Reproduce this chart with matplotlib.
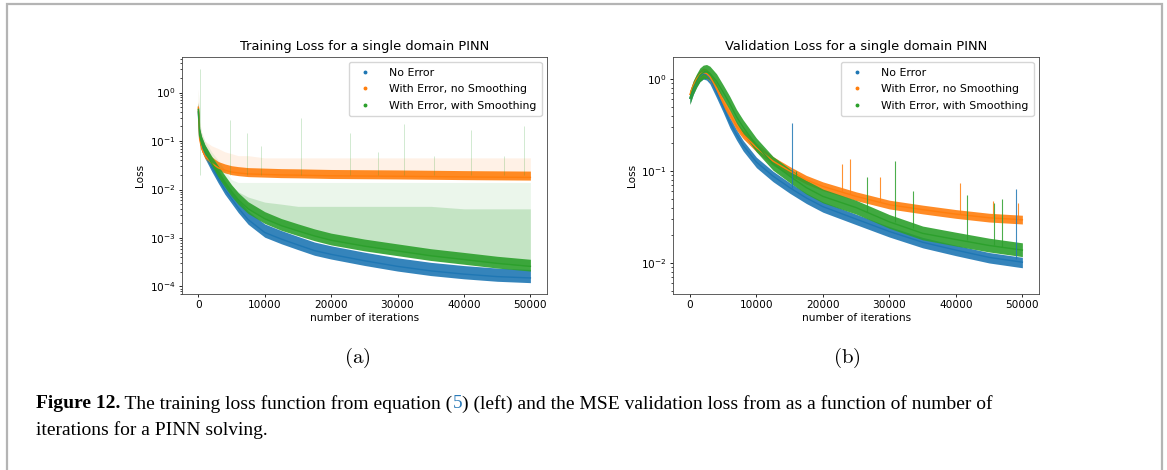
import numpy as np
import matplotlib
matplotlib.use("Agg")
import matplotlib.pyplot as plt
from matplotlib.lines import Line2D
from matplotlib.patches import Rectangle

plt.rcParams["mathtext.fontset"] = "dejavusans"

BLUE, ORANGE, GREEN = "#1f77b4", "#ff7f0e", "#2ca02c"
labels = ["No Error", "With Error, no Smoothing", "With Error, with Smoothing"]

# ---- training loss, core of the dense cloud
train_it = [0, 200, 500, 1000, 2000, 3000, 4000, 5000, 6000, 7500, 10000, 12500,
            15000, 17500, 20000, 25000, 30000, 35000, 40000, 45000, 50000]
train_blue = [0.4, 0.12, 0.08, 0.055, 0.03, 0.017, 0.010, 0.0065, 0.0042, 0.0024, 0.0013,
              0.00095, 0.00072, 0.00055, 0.00046, 0.00034, 0.00026, 0.00021, 0.00018,
              0.00016, 0.00015]
train_orange = [0.5, 0.11, 0.07, 0.05, 0.035, 0.028, 0.025, 0.023, 0.022, 0.021, 0.0205,
                0.020, 0.0198, 0.0195, 0.0192, 0.019, 0.0188, 0.0185, 0.0182, 0.018, 0.0178]
train_green = [0.45, 0.13, 0.09, 0.06, 0.035, 0.022, 0.014, 0.009, 0.0062, 0.0040, 0.0025,
               0.0018, 0.0014, 0.0011, 0.0009, 0.00068, 0.00054, 0.00043, 0.00036,
               0.0003, 0.00026]
# sparse haze above the clouds: dense part and outer edge
train_orange_haze = [1.2, 0.25, 0.15, 0.1, 0.08, 0.07, 0.06, 0.055, 0.05, 0.05, 0.045, 0.045,
                     0.045, 0.045, 0.045, 0.045, 0.045, 0.045, 0.045, 0.045, 0.045]
train_green_mid = [0.6, 0.16, 0.11, 0.07, 0.04, 0.026, 0.018, 0.012, 0.009, 0.007, 0.0055,
                   0.005, 0.0045, 0.0045, 0.0045, 0.0045, 0.0045, 0.0045, 0.004, 0.004, 0.004]
train_green_haze = [1.2, 0.25, 0.15, 0.1, 0.06, 0.04, 0.025, 0.016, 0.014, 0.014, 0.014,
                    0.014, 0.014, 0.014, 0.014, 0.014, 0.014, 0.014, 0.014, 0.014, 0.014]
# isolated spikes (iteration, peak)
train_spike_it = [300, 4700, 7300, 9500, 15500, 22800, 27000, 31000, 35500, 41000, 46000, 49000]
train_spike_val = [3.0, 0.27, 0.15, 0.08, 0.3, 0.15, 0.06, 0.23, 0.05, 0.17, 0.05, 0.2]

# ---- validation loss
val_it = [0, 500, 1000, 1500, 2000, 2500, 3000, 4000, 5000, 6000, 7000, 8000, 10000,
          12500, 15000, 17500, 20000, 25000, 30000, 35000, 40000, 45000, 50000]
val_blue = [0.62, 0.78, 0.95, 1.08, 1.15, 1.12, 1.02, 0.72, 0.5, 0.34, 0.25, 0.19, 0.125,
            0.088, 0.066, 0.051, 0.041, 0.030, 0.022, 0.0168, 0.0138, 0.0115, 0.0102]
val_orange = [0.68, 0.85, 1.0, 1.12, 1.18, 1.15, 1.06, 0.8, 0.56, 0.42, 0.31, 0.25, 0.18,
              0.128, 0.1, 0.08, 0.068, 0.053, 0.043, 0.038, 0.034, 0.031, 0.0295]
val_green = [0.62, 0.8, 0.95, 1.1, 1.18, 1.2, 1.15, 0.95, 0.72, 0.54, 0.39, 0.3, 0.19,
             0.12, 0.088, 0.066, 0.053, 0.04, 0.028, 0.021, 0.018, 0.0155, 0.0138]
# spikes: iteration, foot, peak
val_spikes = {
    BLUE: ([15400, 49000], [0.066, 0.011], [0.33, 0.063]),
    ORANGE: ([22800, 24000, 28600, 40600, 45600, 49300],
             [0.06, 0.056, 0.046, 0.034, 0.031, 0.03], [0.12, 0.135, 0.087, 0.074, 0.047, 0.045]),
    GREEN: ([16000, 26600, 30900, 33500, 41600, 45700, 47000],
            [0.085, 0.036, 0.028, 0.024, 0.018, 0.0155, 0.015], [0.1, 0.087, 0.13, 0.06, 0.055, 0.045, 0.05]),
}

fig = plt.figure(figsize=(11.67, 4.70), dpi=100)
fig.patches.append(Rectangle((7 / 1167, -0.01), 1155 / 1167, 1.0 - 4 / 470 + 0.01,
                             transform=fig.transFigure, fill=False, edgecolor="#b4b4b4", lw=1.6))

ax1 = fig.add_axes([181.7 / 1167, 1 - 294 / 470, 365.3 / 1167, 237.3 / 470])
ax2 = fig.add_axes([673.3 / 1167, 1 - 294 / 470, 365.7 / 1167, 237.3 / 470])


def cloud(ax, x, core, lo, hi, color, alpha=0.9):
    core = np.array(core)
    ax.fill_between(x, core * lo, core * hi, color=color, alpha=alpha, lw=0)
    ax.plot(x, core, color=color, lw=1.0)


# training panel
cloud(ax1, train_it, train_blue, 0.8, 1.5, BLUE)
ax1.fill_between(train_it, train_orange, train_orange_haze, color=ORANGE, alpha=0.10, lw=0)
cloud(ax1, train_it, train_orange, 0.88, 1.35, ORANGE)
ax1.fill_between(train_it, train_green, train_green_haze, color=GREEN, alpha=0.09, lw=0)
ax1.fill_between(train_it, train_green, train_green_mid, color=GREEN, alpha=0.2, lw=0)
cloud(ax1, train_it, train_green, 0.8, 1.4, GREEN)
ax1.vlines(train_spike_it, 0.02, train_spike_val, color=GREEN, lw=0.5, alpha=0.3)
ax1.set_ylim(7e-5, 5.5)
ax1.set_title("Training Loss for a single domain PINN", fontsize=9.4, pad=5)

# validation panel
cloud(ax2, val_it, val_blue, 0.87, 1.13, BLUE)
cloud(ax2, val_it, val_orange, 0.9, 1.12, ORANGE)
cloud(ax2, val_it, val_green, 0.85, 1.2, GREEN)
for c, (xs, lo, hi) in val_spikes.items():
    ax2.vlines(xs, lo, hi, color=c, lw=0.8, alpha=0.85)
ax2.set_ylim(4.6e-3, 1.75)
ax2.set_title("Validation Loss for a single domain PINN", fontsize=9.4, pad=5)

handles = [Line2D([], [], ls="none", marker="o", ms=1.8, color=c) for c in (BLUE, ORANGE, GREEN)]
for ax in (ax1, ax2):
    ax.set_yscale("log")
    ax.set_xlim(-2500, 52500)
    ax.set_xticks([0, 10000, 20000, 30000, 40000, 50000])
    ax.set_xlabel("number of iterations", fontsize=7.6, labelpad=2)
    ax.set_ylabel("Loss", fontsize=7.6, labelpad=3)
    ax.tick_params(labelsize=7.6, width=0.6, length=2.5, pad=2)
    ax.tick_params(which="minor", width=0.5, length=1.5)
    for s in ax.spines.values():
        s.set_linewidth(0.6)
        s.set_color("#444444")
    ax.legend(handles, labels, loc="upper right", fontsize=7.8, handletextpad=1.2,
              borderpad=0.5, labelspacing=0.62, framealpha=0.8)

# sub-captions
fig.text(357 / 1167, 1 - 358 / 470, r"$\mathrm{(a)}$", fontsize=15, ha="center", va="center",
         math_fontfamily="cm")
fig.text(847 / 1167, 1 - 358 / 470, r"$\mathrm{(b)}$", fontsize=15, ha="center", va="center",
         math_fontfamily="cm")

# figure caption
rend = fig.canvas.get_renderer()
cap_fs = 14
y1 = 1 - 404 / 470
parts = [("Figure 12.", "bold", "black"),
         (" The training loss function from equation (", "normal", "black"),
         ("5", "normal", "#2b7bb9"),
         (") (left) and the MSE validation loss from as a function of number of", "normal", "black")]
x = 36 / 1167
for txt, w, c in parts:
    t = fig.text(x, y1, txt, fontsize=cap_fs, family="Liberation Serif", weight=w, color=c,
                 va="center")
    bb = t.get_window_extent(rend)
    x = bb.x1 / fig.bbox.width
fig.text(36 / 1167, 1 - 430 / 470, "iterations for a PINN solving.", fontsize=cap_fs,
         family="Liberation Serif", va="center")

fig.savefig("out.png", dpi=100)
